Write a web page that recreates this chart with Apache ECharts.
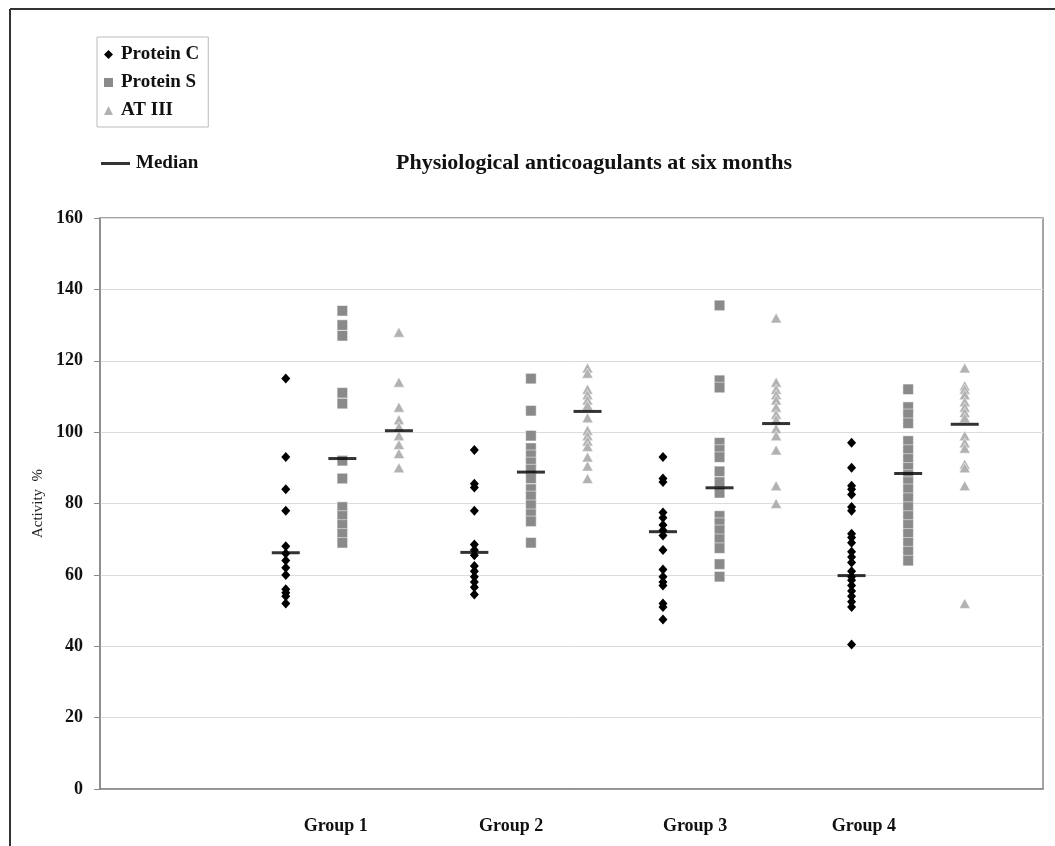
<!DOCTYPE html>
<html>
<head>
<meta charset="utf-8">
<script src="https://cdn.jsdelivr.net/npm/echarts@6/dist/echarts.min.js"></script>
<style>html,body{margin:0;padding:0;background:#fff}#c{width:1055px;height:846px}</style>
</head>
<body>
<div id="c"></div>
<script>
// ---- data ----
var categories = ['Group 1', 'Group 2', 'Group 3', 'Group 4'];
var seriesNames = ['Protein C', 'Protein S', 'AT III'];
var yTicks = [0, 20, 40, 60, 80, 100, 120, 140, 160];

var proteinC = [
  [115, 93, 84, 78, 68, 66, 64, 62, 60, 56, 55, 54, 52],
  [95, 85.5, 84.5, 78, 68.5, 67, 65.5, 62.5, 61, 59.5, 58, 56.5, 54.5],
  [93, 87, 86, 77.5, 76, 74, 72.5, 71, 67, 61.5, 59.5, 58, 57, 52, 51, 47.5],
  [97, 90, 85, 84, 82.5, 79, 78, 71.5, 70.5, 69, 66.5, 65, 63.5, 61, 59.5, 58.5, 57, 55.5, 54, 52.5, 51, 40.5]
];
var proteinS = [
  [134, 130, 127, 111, 108, 92, 87, 79, 76.5, 74, 71.5, 69],
  [115, 106, 99, 95.5, 93.5, 91.5, 89.5, 87, 84, 82, 79.5, 77, 75, 69],
  [135.5, 114.5, 112.5, 97, 95, 93, 89, 86, 83, 76.5, 74.5, 72.5, 70, 67.5, 63, 59.5],
  [112, 107, 105, 102.5, 97.5, 95, 92.5, 90, 88, 86, 84, 81.5, 79, 76.5, 74, 71.5, 69, 66.5, 64]
];
var atIII = [
  [128, 114, 107, 103.5, 101.5, 99, 96.5, 94, 90],
  [118, 116.5, 112, 110.5, 109, 107.5, 104, 100.5, 99, 97.5, 96, 93, 90.5, 87],
  [132, 114, 112, 110.5, 109, 107, 105, 103.5, 101, 99, 95, 85, 80],
  [118, 113, 112, 110.5, 108.5, 107, 105.5, 104, 99, 97, 95.5, 91, 90, 85, 52]
];
var medians = {
  'Protein C': [66.2, 66.3, 72.1, 59.8],
  'Protein S': [92.6, 88.8, 84.4, 88.4],
  'AT III': [100.4, 105.8, 102.4, 102.2]
};

// ---- layout (x positions on a 0..10 value axis) ----
var groupX = [1.97, 3.97, 5.97, 7.97];
var seriesOffset = [0, 0.6, 1.2];
var labelX = [2.5, 4.36, 6.31, 8.1];

var allValues = [proteinC, proteinS, atIII];
var colors = ['#000000', '#8a8a8a', '#b2b2b2'];
var symbols = ['diamond', 'rect', 'triangle'];
var symbolSizes = [[9, 10], [10.5, 10.5], [11, 10]];
var borders = [0, 0.5, 0.5];

function pts(s) {
  var out = [];
  allValues[s].forEach(function (vals, g) {
    vals.forEach(function (v) { out.push([groupX[g] + seriesOffset[s], v]); });
  });
  return out;
}
var medianPts = [];
seriesNames.forEach(function (n, s) {
  medians[n].forEach(function (v, g) { medianPts.push([groupX[g] + seriesOffset[s], v]); });
});

var serif = '"Liberation Serif", "Times New Roman", serif';
var series = seriesNames.map(function (n, s) {
  return {
    name: n, type: 'scatter', data: pts(s), symbol: symbols[s], symbolSize: symbolSizes[s],
    itemStyle: { color: colors[s], opacity: 1, borderColor: '#fff', borderWidth: borders[s] }, z: 2, silent: true
  };
});
series.push({
  name: 'Median', type: 'scatter', data: medianPts, symbol: 'rect', symbolSize: [28, 3],
  itemStyle: { color: '#000' }, z: 5, silent: true
});

var chart = echarts.init(document.getElementById('c'), null, { renderer: 'canvas' });
chart.setOption({
  animation: false,
  backgroundColor: '#fff',
  title: {
    text: 'Physiological anticoagulants at six months',
    left: 589, top: 147, textAlign: 'center',
    textStyle: { fontFamily: serif, fontWeight: 'bold', fontSize: 22, color: '#111' }
  },
  legend: [{
    data: seriesNames.map(function (n, s) { return { name: n, icon: symbols[s], itemStyle: { borderWidth: 0 } }; }),
    orient: 'vertical', left: 97, top: 37, itemGap: 9, itemWidth: 9, itemHeight: 9,
    padding: [8, 9, 7, 7], borderColor: '#bbb', borderWidth: 1,
    textStyle: { fontFamily: serif, fontWeight: 'bold', fontSize: 19, color: '#111', padding: [0, 0, 0, 3] },
    selectedMode: false
  }, {
    data: [{ name: 'Median', icon: 'rect' }],
    left: 96, top: 149, itemWidth: 29, itemHeight: 3,
    textStyle: { fontFamily: serif, fontWeight: 'bold', fontSize: 19, color: '#111', padding: [0, 0, 0, 1] },
    selectedMode: false
  }],
  grid: { left: 100, right: 12, top: 218, bottom: 57, show: true, borderColor: '#888', borderWidth: 1.5 },
  xAxis: {
    type: 'value', min: 0, max: 10,
    axisLine: { show: true, lineStyle: { color: '#888', width: 1.5 } },
    axisTick: { show: false },
    splitLine: { show: false },
    axisLabel: {
      customValues: labelX, margin: 28,
      formatter: function (v) { var i = labelX.indexOf(v); return i >= 0 ? categories[i] : ''; },
      fontFamily: serif, fontWeight: 'bold', fontSize: 18, color: '#111'
    }
  },
  yAxis: {
    type: 'value', min: yTicks[0], max: yTicks[yTicks.length - 1], interval: 20,
    name: 'Activity  %', nameLocation: 'middle', nameRotate: 90, nameGap: 51,
    nameTextStyle: { fontFamily: serif, fontSize: 15, color: '#222' },
    axisLine: { show: true, lineStyle: { color: '#888', width: 1.5 } },
    axisTick: { show: true, length: 6, lineStyle: { color: '#888' } },
    splitLine: { show: true, lineStyle: { color: '#dcdcdc', width: 1 } },
    axisLabel: { margin: 17, fontFamily: serif, fontWeight: 'bold', fontSize: 18, color: '#111' }
  },
  graphic: [
    { type: 'line', shape: { x1: 10, y1: 9, x2: 1060, y2: 9 }, style: { stroke: '#333', lineWidth: 2 }, silent: true },
    { type: 'line', shape: { x1: 10, y1: 9, x2: 10, y2: 850 }, style: { stroke: '#333', lineWidth: 2 }, silent: true }
  ],
  series: series
});
</script>
</body>
</html>
